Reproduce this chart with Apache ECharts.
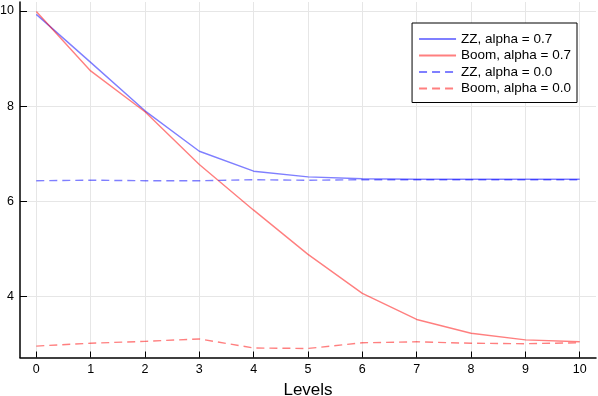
<!DOCTYPE html>
<html>
<head>
<meta charset="utf-8">
<script src="https://cdn.jsdelivr.net/npm/echarts@6/dist/echarts.min.js"></script>
<style>
  html, body { margin: 0; padding: 0; background: #fff; }
  #chart { width: 598px; height: 396px; }
</style>
</head>
<body>
<div id="chart"></div>
<script>
// levels on the x axis
const levels = [0, 1, 2, 3, 4, 5, 6, 7, 8, 9, 10];
const xTicks = [0, 1, 2, 3, 4, 5, 6, 7, 8, 9, 10];
const yTicks = [4, 6, 8, 10];

// values
const zz07   = [9.93, 8.92, 7.90, 7.05, 6.63, 6.51, 6.47, 6.46, 6.46, 6.46, 6.46];
const boom07 = [9.99, 8.74, 7.88, 6.77, 5.81, 4.88, 4.06, 3.51, 3.22, 3.08, 3.04];
const zz00   = [6.43, 6.44, 6.43, 6.43, 6.45, 6.44, 6.45, 6.45, 6.45, 6.45, 6.45];
const boom00 = [2.95, 3.01, 3.05, 3.10, 2.91, 2.90, 3.02, 3.04, 3.01, 3.00, 3.02];

const seriesNames = ['ZZ, alpha = 0.7', 'Boom, alpha = 0.7', 'ZZ, alpha = 0.0', 'Boom, alpha = 0.0'];

const blue = 'rgba(0,0,255,0.5)';
const red = 'rgba(255,0,0,0.5)';
const font = 'Liberation Sans';

function pairs(ys) {
  return levels.map((x, i) => [x, ys[i]]);
}

function makeLine(name, ys, color, dashed) {
  return {
    name: name,
    type: 'line',
    data: pairs(ys),
    showSymbol: false,
    symbol: 'none',
    animation: false,
    itemStyle: { color: color },
    lineStyle: { color: color, width: 1.4, type: dashed ? [8, 5] : 'solid' }
  };
}

const chart = echarts.init(document.getElementById('chart'), null, { renderer: 'canvas' });

const option = {
  animation: false,
  textStyle: { fontFamily: font },
  grid: { left: 20, right: 2, top: 2, bottom: 38.5, containLabel: false, outerBoundsMode: 'none' },
  legend: {
    orient: 'vertical',
    right: 21,
    top: 23,
    data: seriesNames,
    backgroundColor: '#fff',
    borderColor: '#000',
    borderWidth: 1,
    borderRadius: 0,
    padding: [9, 6, 7, 6],
    itemWidth: 37,
    itemHeight: 14,
    itemGap: 2.5,
    itemStyle: { opacity: 0 },
    textStyle: { fontFamily: font, fontSize: 13.5, color: '#000' }
  },
  xAxis: {
    type: 'value',
    min: -0.3,
    max: 10.3,
    name: 'Levels',
    nameLocation: 'middle',
    nameGap: 18,
    nameTextStyle: { fontFamily: font, fontSize: 17, color: '#000' },
    axisLine: { show: true, onZero: false, lineStyle: { color: '#000', width: 1.5 } },
    axisTick: { show: true, inside: true, length: 6, customValues: xTicks, lineStyle: { color: '#000', width: 1 } },
    axisLabel: { customValues: xTicks, fontFamily: font, fontSize: 12.5, color: '#000', margin: 6 },
    splitLine: { show: true, lineStyle: { color: '#e6e6e6', width: 1 } }
  },
  yAxis: {
    type: 'value',
    min: 2.71,
    max: 10.19,
    axisLine: { show: true, onZero: false, lineStyle: { color: '#000', width: 1.5 } },
    axisTick: { show: true, inside: true, length: 7, customValues: yTicks, lineStyle: { color: '#000', width: 1 } },
    axisLabel: { customValues: yTicks, fontFamily: font, fontSize: 12.5, color: '#000', margin: 6 },
    splitLine: { show: true, lineStyle: { color: '#e6e6e6', width: 1 } }
  },
  series: [
    makeLine(seriesNames[0], zz07, blue, false),
    makeLine(seriesNames[1], boom07, red, false),
    makeLine(seriesNames[2], zz00, blue, true),
    makeLine(seriesNames[3], boom00, red, true)
  ]
};

chart.setOption(option);
</script>
</body>
</html>
